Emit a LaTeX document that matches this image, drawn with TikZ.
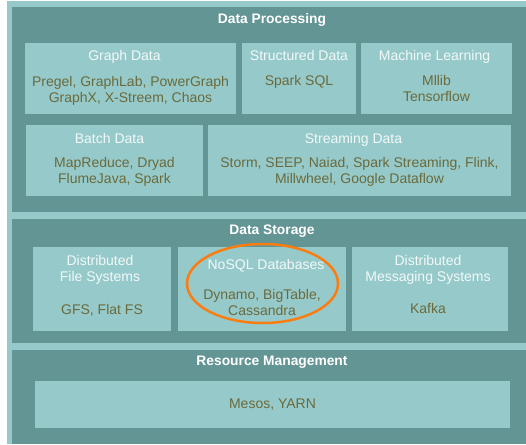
\documentclass[tikz,border=0pt]{standalone}
\usepackage{fontspec}
\setmainfont{Liberation Sans}
\usetikzlibrary{positioning}
\definecolor{tealdark}{HTML}{649595}
\definecolor{teallight}{HTML}{96CACA}
\definecolor{olivetext}{HTML}{6A6A3C}
\definecolor{headwhite}{HTML}{F2F8F8}
\definecolor{ringorange}{HTML}{FA7D12}

\begin{document}
\begin{tikzpicture}[x=1pt,y=-1pt,
    panel/.style={fill=tealdark,anchor=north west,outer sep=0pt,inner sep=0pt},
    box/.style={fill=teallight,anchor=north west,outer sep=0pt,inner sep=0pt},
    ptitle/.style={text=white,font=\fontsize{13.8}{16}\selectfont\bfseries},
    head/.style={text=headwhite,align=center,inner sep=0pt,font=\fontsize{14}{16}\selectfont},
    body/.style={text=olivetext,align=center,inner sep=0pt,font=\fontsize{14}{16}\selectfont}]

    \useasboundingbox (0,0) rectangle (526,444);
    \fill[teallight] (7,1) rectangle (526,444);

    % layers
    \node[panel,minimum width=514pt,minimum height=205pt] (proc) at (12,7) {};
    \node[panel,minimum width=514pt,minimum height=124pt] (store) at (12,219) {};
    \node[panel,minimum width=514pt,minimum height=94pt] (res) at (12,350) {};

    \node[ptitle] (proc-t) at (272,20) {Data Processing};
    \node[ptitle] (store-t) at (272,231) {Data Storage};
    \node[ptitle] (res-t) at (272,362) {Resource Management};

    % data processing
    \node[box,minimum width=211pt,minimum height=71pt] (graph) at (25,43) {};
    \node[box,minimum width=114pt,minimum height=71pt,right=6pt of graph] (struct) {};
    \node[box,minimum width=151pt,minimum height=71pt,right=5pt of struct] (ml) {};
    \node[box,minimum width=177pt,minimum height=71pt] (batch) at (26,125) {};
    \node[box,minimum width=303pt,minimum height=71pt,right=5pt of batch] (stream) {};

    \node[head] (graph-h) at ([xshift=-6pt,yshift=-14pt]graph.north) {Graph Data};
    \node[body] (graph-b) at ([yshift=-48pt]graph.north) {Pregel, GraphLab, PowerGraph\\GraphX, X-Streem, Chaos};
    \node[head] (struct-h) at ([yshift=-12pt]struct.north) {Structured Data};
    \node[body] (struct-b) at ([yshift=-39pt]struct.north) {Spark SQL};
    \node[head] (ml-h) at ([xshift=-2pt,yshift=-14pt]ml.north) {Machine Learning};
    \node[body] (ml-b) at ([yshift=-45pt]ml.north) {Mllib\\Tensorflow};
    \node[head] (batch-h) at ([xshift=-5pt,yshift=-13pt]batch.north) {Batch Data};
    \node[body] (batch-b) at ([yshift=-47pt]batch.north) {MapReduce, Dryad\\FlumeJava, Spark};
    \node[head] (stream-h) at ([xshift=-6pt,yshift=-15pt]stream.north) {Streaming Data};
    \node[body] (stream-b) at ([yshift=-47pt]stream.north) {Storm, SEEP, Naiad, Spark Streaming, Flink,\\Millwheel, Google Dataflow};

    % data storage
    \node[box,minimum width=138pt,minimum height=84pt] (dfs) at (33,247) {};
    \node[box,minimum width=168pt,minimum height=84pt,right=7pt of dfs] (nosql) {};
    \node[box,minimum width=156pt,minimum height=84pt,right=6pt of nosql] (msg) {};

    \node[head] (dfs-h) at ([xshift=-2pt,yshift=-23pt]dfs.north) {Distributed\\File Systems};
    \node[body] (dfs-b) at ([yshift=-63pt]dfs.north) {GFS, Flat FS};
    \node[head] (nosql-h) at ([xshift=4pt,yshift=-19pt]nosql.north) {NoSQL Databases};
    \node[body] (nosql-b) at ([yshift=-55pt]nosql.north) {Dynamo, BigTable,\\Cassandra};
    \node[head] (msg-h) at ([xshift=-2pt,yshift=-23pt]msg.north) {Distributed\\Messaging Systems};
    \node[body] (msg-b) at ([xshift=-2pt,yshift=-61pt]msg.north) {Kafka};

    \draw[ringorange,line width=2.5pt] (262.5,283.5) ellipse [x radius=75.5pt,y radius=39.5pt];

    % resource management
    \node[box,minimum width=475pt,minimum height=47pt] (mgmt) at (35,381) {};
    \node[body] (mgmt-b) at (mgmt.center) {Mesos, YARN};

\end{tikzpicture}
\end{document}
